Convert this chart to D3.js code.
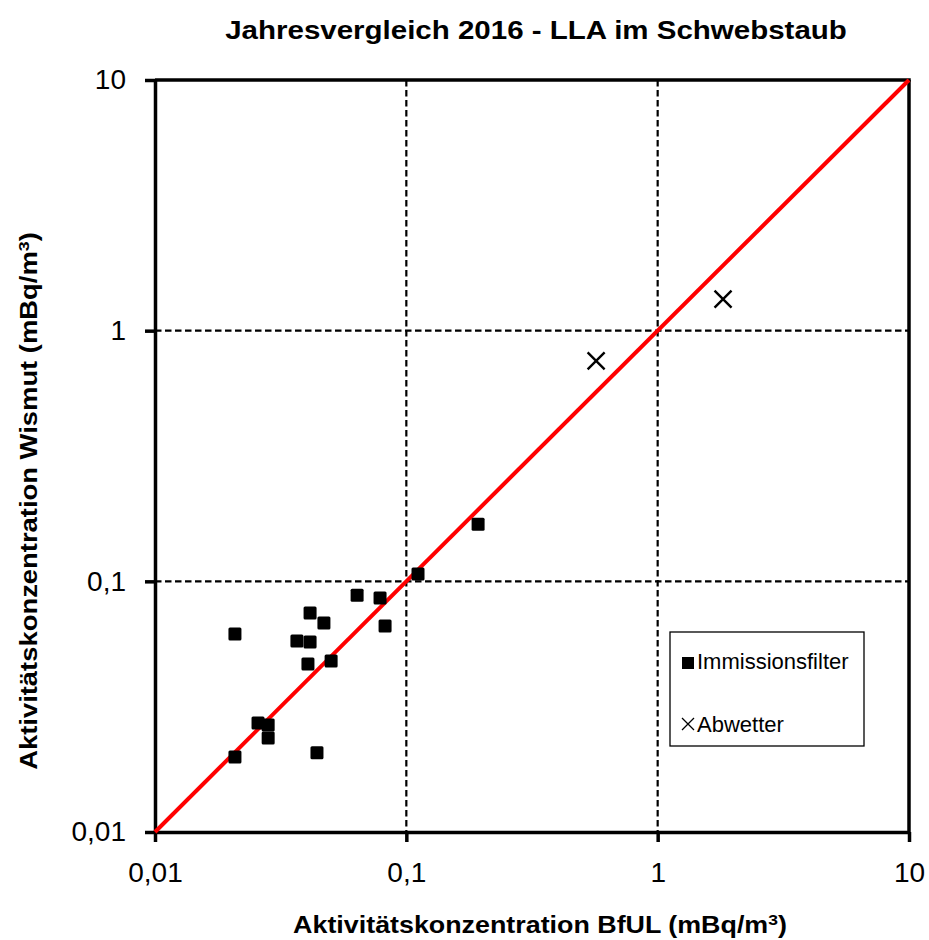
<!DOCTYPE html>
<html>
<head>
<meta charset="utf-8">
<script src="https://cdn.jsdelivr.net/npm/d3@7"></script>
<style>
  body { margin: 0; background: #fff; }
  text { font-family: "Liberation Sans", Arial, sans-serif; }
</style>
</head>
<body>
<div id="chart"></div>
<script>
// values (mBq/m3)
var filterBfUL   = [0.0208, 0.0637, 0.0786, 0.0823, 0.0414, 0.0470, 0.0367, 0.0414, 0.0406, 0.0502, 0.0257, 0.0282, 0.0282, 0.0208, 0.0441, 0.1113, 0.193];
var filterWismut = [0.0617, 0.0881, 0.0858, 0.0663, 0.0747, 0.0682, 0.0578, 0.0573, 0.0468, 0.0481, 0.0272, 0.0267, 0.0237, 0.0199, 0.0207, 0.1069, 0.169];
var abwetterBfUL   = [0.569, 1.82];
var abwetterWismut = [0.757, 1.336];
var tickValues = [0.01, 0.1, 1, 10];
var tickLabels = ['0,01', '0,1', '1', '10'];
var legendLabels = ['Immissionsfilter', 'Abwetter'];

var width = 929, height = 940;
var margin = {left: 155, right: 20, top: 80, bottom: 108};

var svg = d3.select('#chart').append('svg')
  .attr('width', width)
  .attr('height', height);

var x = d3.scaleLog()
  .domain([0.01, 10])
  .range([margin.left, width - margin.right]);

var y = d3.scaleLog()
  .domain([0.01, 10])
  .range([height - margin.bottom, margin.top]);

var fmt = function(d){ return tickLabels[tickValues.indexOf(d)]; };

function crossPath(r){
  return 'M' + (-r) + ',' + (-r) + 'L' + r + ',' + r + 'M' + (-r) + ',' + r + 'L' + r + ',' + (-r);
}

// squeeze a text horizontally (in its own frame) to a target width
function squeeze(sel, cx, cy, rot, target){
  var w = sel.node().getComputedTextLength();
  var k = target / w;
  sel.attr('transform', 'translate(' + cx + ',' + cy + ') rotate(' + rot + ') scale(' + k + ',1)');
}

// grid
var grid = svg.append('g');
[0.1, 1].forEach(function(v){
  grid.append('line')
    .attr('x1', x(v)).attr('x2', x(v))
    .attr('y1', y(10)).attr('y2', y(0.01))
    .attr('stroke', '#000').attr('stroke-width', 2.2)
    .attr('stroke-dasharray', '6.5,3.5');
  grid.append('line')
    .attr('x1', x(0.01)).attr('x2', x(10))
    .attr('y1', y(v)).attr('y2', y(v))
    .attr('stroke', '#000').attr('stroke-width', 2.2)
    .attr('stroke-dasharray', '6.5,3.5');
});

// frame top / right
svg.append('line')
  .attr('x1', x(0.01)).attr('x2', x(10) + 1.75)
  .attr('y1', y(10)).attr('y2', y(10))
  .attr('stroke', '#000').attr('stroke-width', 3.5);
svg.append('line')
  .attr('x1', x(10)).attr('x2', x(10))
  .attr('y1', y(10)).attr('y2', y(0.01))
  .attr('stroke', '#000').attr('stroke-width', 3.5);

// axes
var xAxis = svg.append('g')
  .attr('transform', 'translate(0,' + y(0.01) + ')')
  .call(d3.axisBottom(x).tickValues(tickValues).tickFormat(fmt).tickSize(10).tickSizeOuter(0));
var yAxis = svg.append('g')
  .attr('transform', 'translate(' + x(0.01) + ',0)')
  .call(d3.axisLeft(y).tickValues(tickValues).tickFormat(fmt).tickSize(10).tickSizeOuter(0));

[xAxis, yAxis].forEach(function(a){
  a.select('.domain').attr('stroke', '#000').attr('stroke-width', 3.5);
  a.selectAll('.tick line').attr('stroke', '#000').attr('stroke-width', 3.5);
  a.selectAll('.tick text')
    .attr('fill', '#000')
    .style('font-size', '28px')
    .style('font-family', '"Liberation Sans", Arial, sans-serif');
});
xAxis.selectAll('.tick text').attr('y', 30).attr('dy', '0.71em');
yAxis.selectAll('.tick text').attr('x', -29);

// 1:1 line
svg.append('line')
  .attr('x1', x(0.01)).attr('y1', y(0.01))
  .attr('x2', x(10)).attr('y2', y(10))
  .attr('stroke', '#ff0000').attr('stroke-width', 4);

// immissionsfilter squares
svg.append('g').selectAll('rect')
  .data(d3.range(filterBfUL.length))
  .enter().append('rect')
    .attr('x', function(i){ return x(filterBfUL[i]) - 6.5; })
    .attr('y', function(i){ return y(filterWismut[i]) - 6.5; })
    .attr('width', 13).attr('height', 13)
    .attr('rx', 1.5)
    .attr('fill', '#000');

// abwetter crosses
svg.append('g').selectAll('path')
  .data(d3.range(abwetterBfUL.length))
  .enter().append('path')
    .attr('d', crossPath(8.5))
    .attr('transform', function(i){ return 'translate(' + x(abwetterBfUL[i]) + ',' + y(abwetterWismut[i]) + ')'; })
    .attr('fill', 'none')
    .attr('stroke', '#000').attr('stroke-width', 2.4);

// legend
var legend = svg.append('g');
legend.append('rect')
  .attr('x', 670).attr('y', 632)
  .attr('width', 194).attr('height', 114)
  .attr('fill', '#fff').attr('stroke', '#000').attr('stroke-width', 1.3);
legend.append('rect')
  .attr('x', 682).attr('y', 657)
  .attr('width', 12).attr('height', 12)
  .attr('fill', '#000');
legend.append('path')
  .attr('d', crossPath(6))
  .attr('transform', 'translate(688,724)')
  .attr('fill', 'none').attr('stroke', '#000').attr('stroke-width', 1.3);
legend.selectAll('text.lab')
  .data(legendLabels)
  .enter().append('text')
    .attr('class', 'lab')
    .attr('x', 697)
    .attr('y', function(d, i){ return 669 + i * 63; })
    .style('font-size', '22px')
    .attr('fill', '#000')
    .text(function(d){ return d; });

// title
var title = svg.append('text')
  .attr('text-anchor', 'middle')
  .style('font-size', '25px').style('font-weight', 'bold')
  .text('Jahresvergleich 2016 - LLA im Schwebstaub');
squeeze(title, 536, 39, 0, 622);

// x axis title
var xt = svg.append('text')
  .attr('text-anchor', 'middle')
  .style('font-size', '23px').style('font-weight', 'bold');
xt.append('tspan').text('Aktivitätskonzentration BfUL (mBq/m');
xt.append('tspan').attr('dy', -8).style('font-size', '15px').text('3');
xt.append('tspan').attr('dy', 8).text(')');
squeeze(xt, 540, 933, 0, 494);

// y axis title
var yt = svg.append('text')
  .attr('text-anchor', 'middle')
  .style('font-size', '23px').style('font-weight', 'bold');
yt.append('tspan').text('Aktivitätskonzentration Wismut (mBq/m');
yt.append('tspan').attr('dy', -8).style('font-size', '15px').text('3');
yt.append('tspan').attr('dy', 8).text(')');
squeeze(yt, 37, 501, -90, 538);
</script>
</body>
</html>
